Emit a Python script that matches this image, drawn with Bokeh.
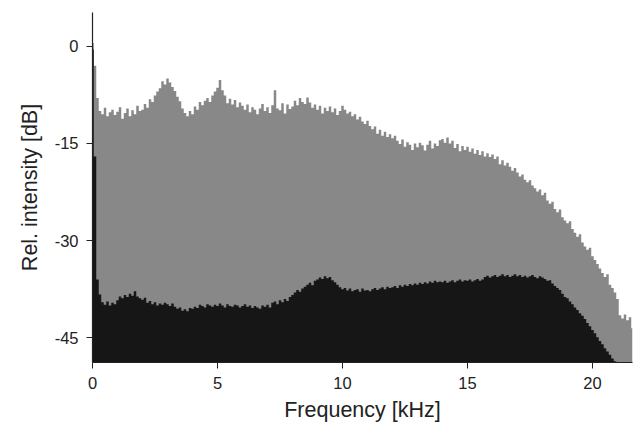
from bokeh.plotting import figure
from bokeh.models import Range1d, FixedTicker, PrintfTickFormatter
from bokeh.embed import file_html
from bokeh.resources import INLINE

# Frequency grid (kHz), step 0.1
freq_step = 0.1
# Upper (gray) spectrum, dB, 0.0 .. 21.6 kHz
gray_db = [
    0.5, -3.0, -8.0, -10.0, -10.5, -9.5, -10.8, -10.2, -9.8, -10.6,
    -10.1, -9.4, -11.2, -10.3, -9.6, -10.8, -9.9, -10.5, -9.2, -10.0,
    -9.8, -8.9, -9.5, -8.2, -8.6, -7.6, -7.0, -6.5, -5.4, -5.9,
    -5.0, -5.6, -6.3, -6.9, -7.8, -8.5, -9.6, -10.3, -10.8, -10.0,
    -10.5, -9.3, -9.8, -8.6, -9.1, -8.4, -8.0, -8.6, -7.6, -7.0,
    -6.4, -5.2, -6.8, -7.6, -8.8, -8.1, -9.0, -8.3, -9.4, -8.7,
    -9.2, -9.8, -9.0, -10.2, -9.4, -9.8, -10.5, -9.6, -8.9, -10.0,
    -9.4, -10.3, -9.1, -6.8, -9.6, -9.9, -8.8, -10.4, -9.0, -9.7,
    -9.3, -8.4, -9.1, -8.0, -8.6, -8.9, -7.9, -8.7, -9.5, -9.0,
    -9.8, -9.2, -10.4, -9.5, -10.0, -9.3, -10.2, -9.6, -10.6, -10.0,
    -9.2, -9.8, -10.4, -10.1, -10.8, -10.5, -11.3, -10.9, -11.6, -12.0,
    -11.5, -12.3, -12.8, -12.4, -13.5, -12.9, -13.8, -13.2, -14.0, -13.6,
    -14.2, -13.8, -14.6, -15.1, -14.4, -15.5, -14.8, -15.2, -16.0, -15.0,
    -15.6, -14.9, -15.3, -16.1, -15.2, -14.6, -15.8, -15.0, -15.4, -14.5,
    -14.3, -14.9, -14.1, -15.0, -14.6, -15.7, -15.1, -16.2, -15.4, -16.0,
    -15.5, -16.3, -15.8, -16.6, -16.0, -16.8, -16.2, -17.0, -16.5, -17.1,
    -16.7, -17.4, -17.0, -18.2, -17.6, -18.4, -18.0, -18.6, -19.2, -18.8,
    -19.5, -20.1, -19.8, -20.6, -21.0, -20.7, -21.5, -21.9, -22.4, -22.1,
    -23.0, -22.6, -23.8, -24.3, -24.0, -25.1, -25.6, -25.2, -26.4, -26.9,
    -27.3, -27.0, -28.2, -28.8, -29.4, -29.0, -30.3, -30.9, -31.4, -31.1,
    -32.4, -33.0, -33.6, -34.3, -35.0, -35.6, -35.2, -36.8, -37.3, -38.0,
    -39.0, -41.5, -42.0, -41.4, -42.3, -41.8, -43.5,
]
# Lower (black) spectrum, dB, 0.0 .. 21.0 kHz
black_db = [
    -0.5, -17.0, -36.0, -38.3, -39.5, -39.9, -39.4, -40.0, -39.6, -39.8,
    -39.2, -38.6, -38.9, -38.4, -38.7, -38.2, -38.5, -37.8, -38.6, -38.9,
    -39.1, -38.8, -39.6, -39.3, -39.8, -39.5, -40.0, -39.7, -39.9, -39.6,
    -39.8, -40.1, -39.7, -40.2, -40.5, -40.3, -40.8, -40.6, -40.9, -40.4,
    -40.5, -40.2, -40.4, -39.9, -40.1, -40.3, -39.8, -40.0, -40.2, -39.9,
    -40.1, -39.7, -40.0, -40.3, -39.8, -40.1, -40.2, -39.9, -40.0, -40.3,
    -40.1, -39.8, -40.2, -40.0, -40.4, -40.1, -40.3, -40.5, -40.0, -40.2,
    -39.9, -40.3, -39.6, -39.4, -39.8, -39.2, -39.5, -39.0, -39.3, -38.7,
    -38.4, -38.0, -37.6, -37.9, -37.4, -37.1, -36.8, -36.5, -36.9, -36.2,
    -36.0, -35.7, -35.9, -35.5, -35.8, -35.6, -36.1, -36.4, -36.8, -37.2,
    -37.5, -37.3, -37.7, -37.4, -37.8, -37.6, -37.5, -37.9, -37.4, -37.7,
    -37.6, -37.8, -37.5, -37.3, -37.6, -37.4, -37.2, -37.5, -37.1, -37.3,
    -37.2, -37.0, -37.3, -36.9, -37.1, -36.8, -37.0, -36.7, -36.9, -36.6,
    -36.8, -36.5, -36.7, -36.4, -36.6, -36.3, -36.5, -36.2, -36.4, -36.3,
    -36.4, -36.2, -36.5, -36.3, -36.1, -36.4, -36.2, -36.0, -36.3, -36.1,
    -36.2, -36.0, -36.3, -36.1, -35.9, -36.2, -36.0, -35.6, -35.4, -35.7,
    -35.5, -35.3, -35.6, -35.4, -35.2, -35.5, -35.3, -35.6, -35.4, -35.2,
    -35.5, -35.3, -35.6, -35.4, -35.7, -35.5, -35.3, -35.6, -35.8, -35.5,
    -35.7, -35.9, -36.2, -36.1, -36.6, -37.0, -37.3, -37.6, -38.2, -38.7,
    -38.9, -39.4, -39.8, -40.3, -40.7, -41.2, -41.6, -42.1, -42.7, -43.2,
    -43.8, -44.3, -44.9, -45.5, -46.0, -46.6, -47.1, -47.6, -48.2, -48.6,
    -49.0,
]
y_ticks = [0, -15, -30, -45]
x_ticks = [0, 5, 10, 15, 20]

y_min, y_max = -48.8, 5.2
x_min, x_max = 0.0, 21.6

gray_x = [round(i * freq_step, 2) for i in range(len(gray_db))]
black_x = [round(i * freq_step, 2) for i in range(len(black_db))]

p = figure(width=638, height=424, output_backend="svg", toolbar_location=None,
           x_range=Range1d(x_min, x_max), y_range=Range1d(y_min, y_max),
           min_border_left=92, min_border_right=6, min_border_top=12, min_border_bottom=60)

p.varea_step(x=gray_x, y1=[y_min] * len(gray_x), y2=gray_db, step_mode="center",
             fill_color="#888888")
p.varea_step(x=black_x, y1=[y_min] * len(black_x), y2=black_db, step_mode="center",
             fill_color="#161616")

p.grid.visible = False
p.outline_line_color = None
p.background_fill_color = "white"

FONT = "Liberation Sans"
for ax in (p.xaxis[0], p.yaxis[0]):
    ax.axis_line_color = "#222222"
    ax.axis_line_width = 1.2
    ax.major_tick_line_color = "#222222"
    ax.major_tick_in = 0
    ax.major_tick_out = 6
    ax.minor_tick_line_color = None
    ax.major_label_text_font = FONT
    ax.major_label_text_font_size = "16.5px"
    ax.major_label_text_color = "#222222"
    ax.axis_label_text_font = FONT
    ax.axis_label_text_font_size = "21.5px"
    ax.axis_label_text_font_style = "normal"
    ax.axis_label_text_color = "#222222"

p.xaxis[0].ticker = FixedTicker(ticks=x_ticks)
p.yaxis[0].ticker = FixedTicker(ticks=y_ticks)
p.xaxis[0].formatter = PrintfTickFormatter(format="%d")
p.yaxis[0].formatter = PrintfTickFormatter(format="%d")
p.xaxis[0].axis_label = "Frequency [kHz]"
p.yaxis[0].axis_label = "Rel. intensity [dB]"
p.xaxis[0].major_label_standoff = 8
p.yaxis[0].major_label_standoff = 8
p.xaxis[0].axis_label_standoff = 6
p.yaxis[0].axis_label_standoff = 10

open("out.html", "w").write(file_html(p, INLINE))
